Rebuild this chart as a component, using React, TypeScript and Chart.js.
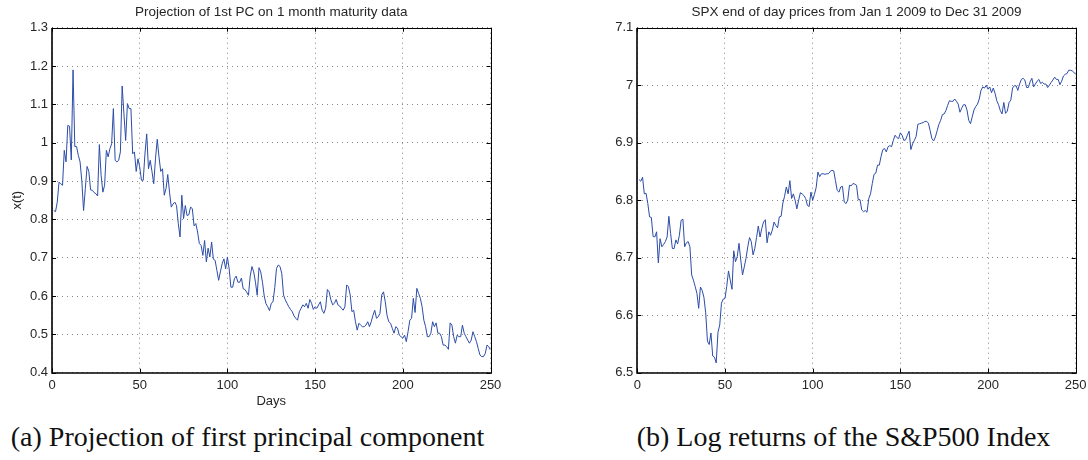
import React, { useEffect, useRef } from "react";
import { Chart, registerables } from "chart.js";

Chart.register(...registerables);

// ---- data -----------------------------------------------------------------

const PC_TITLE = "Projection of 1st PC on 1 month maturity data";
const SPX_TITLE = "SPX end of day prices from Jan 1 2009 to Dec 31 2009";
const PC_Y_LABEL = "x(t)";
const PC_X_LABEL = "Days";
const CAPTION_A = "(a) Projection of first principal component";
const CAPTION_B = "(b) Log returns of the S&P500 Index";

// projection of the first principal component, one value per trading day (day 1..250)
const PC_VALUES = [
  0.823, 0.82, 0.845, 0.897, 0.893, 0.889, 0.98, 0.95, 1.045, 1.043,
  0.955, 1.19, 0.99, 0.99, 0.967, 0.95, 0.9, 0.823, 0.88, 0.938,
  0.925, 0.877, 0.876, 0.87, 0.867, 0.861, 0.995, 0.915, 0.871, 0.889,
  0.98, 0.963, 0.984, 0.997, 1.089, 0.954, 0.95, 0.954, 0.976, 1.148,
  1.076, 1.006, 1.102, 1.089, 1.089, 0.971, 0.976, 0.925, 0.958, 0.937,
  0.902, 0.902, 0.971, 1.023, 0.932, 0.954, 0.925, 0.893, 0.958, 1.009,
  0.963, 0.925, 0.932, 0.863, 0.88, 0.917, 0.871, 0.832, 0.84, 0.845,
  0.836, 0.789, 0.754, 0.863, 0.802, 0.836, 0.81, 0.812, 0.832, 0.828,
  0.783, 0.789, 0.767, 0.737, 0.732, 0.706, 0.745, 0.689, 0.725, 0.702,
  0.741, 0.696, 0.693, 0.667, 0.641, 0.663, 0.684, 0.697, 0.671, 0.702,
  0.671, 0.623, 0.623, 0.645, 0.652, 0.636, 0.636, 0.647, 0.619, 0.617,
  0.61, 0.602, 0.652, 0.677, 0.663, 0.636, 0.602, 0.674, 0.663, 0.636,
  0.6, 0.58, 0.572, 0.562, 0.581, 0.585, 0.622, 0.672, 0.681, 0.677,
  0.659, 0.603, 0.59, 0.581, 0.572, 0.565, 0.559, 0.548, 0.542, 0.537,
  0.559, 0.568, 0.577, 0.572, 0.581, 0.568, 0.591, 0.581, 0.565, 0.572,
  0.568, 0.577, 0.585, 0.563, 0.555, 0.568, 0.617, 0.611, 0.59, 0.577,
  0.581, 0.591, 0.577, 0.574, 0.568, 0.563, 0.572, 0.629, 0.624, 0.603,
  0.559, 0.563, 0.533, 0.511, 0.529, 0.524, 0.52, 0.52, 0.524, 0.533,
  0.52, 0.533, 0.55, 0.563, 0.542, 0.546, 0.555, 0.603, 0.611, 0.585,
  0.55, 0.533, 0.529, 0.516, 0.503, 0.52, 0.516, 0.498, 0.494, 0.49,
  0.498, 0.481, 0.507, 0.537, 0.542, 0.594, 0.557, 0.62, 0.607, 0.594,
  0.572, 0.537, 0.52, 0.494, 0.494, 0.503, 0.533, 0.52, 0.53, 0.503,
  0.503, 0.494, 0.472, 0.472, 0.468, 0.461, 0.53, 0.524, 0.494, 0.477,
  0.498, 0.494, 0.494, 0.524, 0.503, 0.494, 0.485, 0.477, 0.485, 0.507,
  0.494, 0.481, 0.463, 0.446, 0.442, 0.442, 0.45, 0.472, 0.468, 0.459,
];

// log of the S&P 500 end-of-day close, 2009 (day 1..250)
const SPX_VALUES = [
  6.836, 6.833, 6.84, 6.811, 6.812, 6.794, 6.771, 6.77, 6.737, 6.736,
  6.745, 6.691, 6.733, 6.719, 6.723, 6.728, 6.736, 6.772, 6.742, 6.716,
  6.716, 6.731, 6.724, 6.739, 6.765, 6.767, 6.719, 6.726, 6.728, 6.719,
  6.67, 6.661, 6.65, 6.638, 6.612, 6.649, 6.643, 6.631, 6.604, 6.555,
  6.549, 6.569, 6.529, 6.527, 6.517, 6.57, 6.583, 6.621, 6.628, 6.629,
  6.65, 6.677, 6.661, 6.645, 6.712, 6.693, 6.702, 6.725, 6.696, 6.67,
  6.684, 6.699, 6.719, 6.735, 6.728, 6.705, 6.716, 6.735, 6.755, 6.736,
  6.751, 6.762, 6.766, 6.726, 6.745, 6.739, 6.748, 6.762, 6.756, 6.752,
  6.771, 6.772, 6.795, 6.807, 6.823, 6.811, 6.834, 6.803, 6.811, 6.8,
  6.785, 6.8, 6.813, 6.811, 6.808, 6.803, 6.791, 6.789, 6.814, 6.8,
  6.81, 6.822, 6.849, 6.841, 6.846, 6.846, 6.845, 6.846, 6.846, 6.85,
  6.852, 6.851, 6.834, 6.817, 6.814, 6.823, 6.824, 6.797, 6.794, 6.8,
  6.826, 6.825, 6.829, 6.828, 6.826, 6.801, 6.801, 6.783, 6.78, 6.782,
  6.779, 6.803, 6.811, 6.829, 6.845, 6.847, 6.861, 6.861, 6.876, 6.888,
  6.89, 6.884, 6.893, 6.895, 6.893, 6.904, 6.913, 6.909, 6.907, 6.917,
  6.913, 6.904, 6.905, 6.913, 6.92, 6.888, 6.898, 6.904, 6.911, 6.932,
  6.933, 6.934, 6.935, 6.937, 6.937, 6.934, 6.921, 6.907, 6.903, 6.91,
  6.921, 6.932, 6.939, 6.949, 6.95, 6.956, 6.965, 6.973, 6.972, 6.972,
  6.976, 6.972, 6.967, 6.953, 6.96, 6.966, 6.966, 6.957, 6.939, 6.933,
  6.945, 6.957, 6.963, 6.967, 6.976, 6.991, 6.997, 6.995, 7.0, 6.993,
  6.997, 6.987, 6.995, 6.986, 6.973, 6.966, 6.956, 6.95, 6.97, 6.951,
  6.955, 6.97, 6.974, 6.995, 6.999, 6.999, 6.991, 7.002, 7.01, 7.012,
  7.009, 6.996, 6.996, 7.006, 7.012, 6.997, 7.002, 7.007, 7.01, 7.003,
  7.005, 7.002, 7.002, 6.996, 7.0, 7.005, 7.009, 7.014, 7.01, 7.01,
  7.001, 7.007, 7.016, 7.019, 7.02, 7.026, 7.026, 7.025, 7.022, 7.019,
];

// axis ranges (min, max, step)
const DAY_AXIS = [0, 250, 50];
const PC_AXIS = [0.4, 1.3, 0.1];
const SPX_AXIS = [6.5, 7.1, 0.1];

// ---- styling --------------------------------------------------------------

const SANS = "'Liberation Sans', Arial, Helvetica, sans-serif";
const TEXT = "#262626";
const LINE = "#2c4ca8";
const GRID = "rgba(70,70,70,0.65)";

const CANVAS_W = 544;
const CANVAS_H = 410;

// MATLAB-style axes box with inward tick marks on all four sides
const boxPlugin = {
  id: "axesBox",
  afterDraw(chart: any) {
    const { ctx, chartArea } = chart;
    const { left, right, top, bottom } = chartArea;
    const xs = chart.scales.x;
    const ys = chart.scales.y;
    const L = 4;
    ctx.save();
    ctx.strokeStyle = "#000";
    ctx.lineWidth = 1;
    ctx.beginPath();
    xs.ticks.forEach((t: any) => {
      const px = Math.round(xs.getPixelForValue(t.value)) + 0.5;
      ctx.moveTo(px, bottom);
      ctx.lineTo(px, bottom - L);
      ctx.moveTo(px, top);
      ctx.lineTo(px, top + L);
    });
    ys.ticks.forEach((t: any) => {
      const py = Math.round(ys.getPixelForValue(t.value)) + 0.5;
      ctx.moveTo(left, py);
      ctx.lineTo(left + L, py);
      ctx.moveTo(right, py);
      ctx.lineTo(right - L, py);
    });
    ctx.stroke();
    // thin top / right edges
    ctx.beginPath();
    ctx.moveTo(Math.round(left), Math.round(top) + 0.5);
    ctx.lineTo(Math.round(right) + 0.5, Math.round(top) + 0.5);
    ctx.lineTo(Math.round(right) + 0.5, Math.round(bottom));
    ctx.stroke();
    // heavier left / bottom edges
    ctx.lineWidth = 1.6;
    ctx.beginPath();
    ctx.moveTo(Math.round(left), Math.round(top));
    ctx.lineTo(Math.round(left), Math.round(bottom));
    ctx.lineTo(Math.round(right) + 1, Math.round(bottom));
    ctx.stroke();
    ctx.restore();
  },
};

const fmt = (v: number) => String(Math.round(v * 10) / 10);

type PanelProps = {
  title: string;
  values: number[];
  yAxis: number[];
  yLabel?: string;
  xLabel?: string;
  padLeft: number;
  padRight: number;
};

function Panel({ title, values, yAxis, yLabel, xLabel, padLeft, padRight }: PanelProps) {
  const ref = useRef<HTMLCanvasElement | null>(null);

  useEffect(() => {
    if (!ref.current) return;
    const points = values.map((v, i) => ({ x: i + 1, y: v }));
    const tickFont = { family: SANS, size: 13 };
    const chart = new Chart(ref.current, {
      type: "line",
      data: {
        datasets: [
          {
            data: points,
            borderColor: LINE,
            borderWidth: 1,
            pointRadius: 0,
            tension: 0,
            fill: false,
          },
        ],
      },
      plugins: [boxPlugin],
      options: {
        responsive: false,
        animation: false,
        parsing: false as any,
        normalized: true,
        layout: { padding: { left: padLeft, right: padRight, top: 0, bottom: 0 } },
        plugins: {
          legend: { display: false },
          tooltip: { enabled: false },
          title: {
            display: true,
            text: title,
            fullSize: false,
            color: TEXT,
            font: { family: SANS, size: 13.5, weight: "normal" as any },
            padding: { top: 4.6, bottom: 6.9 },
          },
        },
        scales: {
          x: {
            type: "linear",
            min: DAY_AXIS[0],
            max: DAY_AXIS[1],
            afterFit: (s: any) => {
              s.height = CANVAS_H - 372.7;
              s.paddingLeft = 0;
              s.paddingRight = 0;
            },
            ticks: {
              stepSize: DAY_AXIS[2],
              color: TEXT,
              font: tickFont,
              padding: 5,
              maxRotation: 0,
              autoSkip: false,
            },
            grid: { color: GRID, lineWidth: 1, drawTicks: false },
            border: { display: false, dash: [1, 4] },
            title: {
              display: !!xLabel,
              text: xLabel || "",
              color: TEXT,
              font: { family: SANS, size: 13 },
              padding: { top: 0, bottom: 1.2 },
            },
          },
          y: {
            type: "linear",
            min: yAxis[0],
            max: yAxis[1],
            afterFit: (s: any) => {
              s.width = 52;
              s.paddingTop = 0;
              s.paddingBottom = 0;
            },
            ticks: {
              stepSize: yAxis[2],
              color: TEXT,
              font: tickFont,
              padding: 4,
              callback: (v: any) => fmt(Number(v)),
            },
            grid: { color: GRID, lineWidth: 1, drawTicks: false },
            border: { display: false, dash: [1, 4] },
            title: {
              display: !!yLabel,
              text: yLabel || "",
              color: TEXT,
              font: { family: SANS, size: 13 },
              padding: { top: 9.2, bottom: 0 },
            },
          },
        },
      },
    });
    return () => chart.destroy();
  }, [title, values, yAxis, yLabel, xLabel, padLeft, padRight]);

  return <canvas ref={ref} width={CANVAS_W} height={CANVAS_H} style={{ display: "block", width: CANVAS_W, height: CANVAS_H }} />;
}

const captionStyle: React.CSSProperties = {
  position: "absolute",
  top: 419,
  height: 36,
  lineHeight: "36px",
  fontFamily: "'Liberation Serif', 'Times New Roman', serif",
  fontSize: 28,
  color: "#111",
  textAlign: "center",
  whiteSpace: "nowrap",
};

export default function App() {
  return (
    <div style={{ position: "fixed", left: 0, top: 0, width: 1088, height: 460, background: "#fff", overflow: "hidden" }}>
      <div style={{ position: "absolute", left: 0, top: 0 }}>
        <Panel title={PC_TITLE} values={PC_VALUES} yAxis={PC_AXIS} yLabel={PC_Y_LABEL} xLabel={PC_X_LABEL} padLeft={0} padRight={CANVAS_W - 490.5} />
      </div>
      <div style={{ position: "absolute", left: CANVAS_W, top: 0 }}>
        <Panel title={SPX_TITLE} values={SPX_VALUES} yAxis={SPX_AXIS} padLeft={41.3} padRight={12.3} />
      </div>
      <div style={{ ...captionStyle, left: 0, width: 495 }}>{CAPTION_A}</div>
      <div style={{ ...captionStyle, left: 598, width: 491 }}>{CAPTION_B}</div>
    </div>
  );
}
